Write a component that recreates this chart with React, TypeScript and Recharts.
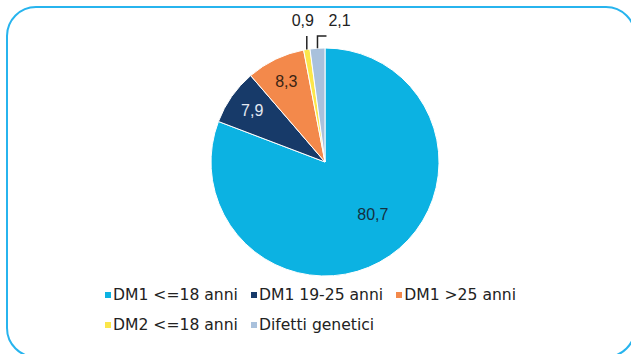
import { PieChart, Pie, Cell, Legend } from "recharts";

const CATEGORIES = ["DM1 <=18 anni", "DM1 19-25 anni", "DM1 >25 anni", "DM2 <=18 anni", "Difetti genetici"];
const VALUES = [80.7, 7.9, 8.3, 0.9, 2.1];

const COLORS = ["#0cb2e2", "#173a69", "#f3894b", "#fbe64a", "#a9c1dc"];
const LABEL_COLORS = ["#14313f", "#e4e9f2", "#3a2414", "#222", "#222"];

const data = CATEGORIES.map((name, i) => ({ name, value: VALUES[i] }));

const RAD = Math.PI / 180;
const fmt = (v: number) => v.toFixed(1).replace(".", ",");

function renderLabel(props: any) {
  const { cx, cy, midAngle, outerRadius, percent, value, index } = props;
  if (percent >= 0.03) {
    // big slice label sits a bit off its mid angle, like the original
    const ang = percent > 0.5 ? midAngle + 8 : midAngle;
    const r = outerRadius * (percent > 0.5 ? 0.62 : 0.78);
    return (
      <text
        x={cx + r * Math.cos(-ang * RAD)}
        y={cy + r * Math.sin(-ang * RAD)}
        fill={LABEL_COLORS[index]}
        textAnchor="middle"
        dominantBaseline="central"
        fontSize={16}
        fontFamily="Liberation Sans, Arial, sans-serif"
      >
        {fmt(value)}
      </text>
    );
  }
  // small slices: leader line straight up, text above
  const x0 = cx + outerRadius * Math.cos(-midAngle * RAD);
  const y0 = cy + outerRadius * Math.sin(-midAngle * RAD);
  const yTop = cy - outerRadius - 12;
  const right = index % 2 === 0;
  const path = right ? `M${x0},${y0}L${x0},${yTop}L${x0 + 9},${yTop}` : `M${x0},${y0}L${x0},${yTop}`;
  return (
    <g>
      <path d={path} stroke="#222" strokeWidth={1.5} fill="none" />
      <text
        x={right ? x0 + 11 : x0 - 4}
        y={yTop - 16}
        fill={LABEL_COLORS[index]}
        textAnchor={right ? "start" : "middle"}
        dominantBaseline="central"
        fontSize={16}
        fontFamily="Liberation Sans, Arial, sans-serif"
      >
        {fmt(value)}
      </text>
    </g>
  );
}

function LegendContent() {
  return (
    <div
      style={{
        display: "flex",
        flexWrap: "wrap",
        width: 440,
        rowGap: 11,
        fontFamily: "DejaVu Sans, Verdana, sans-serif",
        fontSize: 15.6,
        color: "#222",
      }}
    >
      {CATEGORIES.map((c, i) => (
        <div key={c} style={{ display: "flex", alignItems: "center", marginRight: 13, lineHeight: "19px" }}>
          <span style={{ width: 6, height: 6, background: COLORS[i], marginRight: 2, marginTop: -2 }} />
          <span>{c}</span>
        </div>
      ))}
    </div>
  );
}

export default function App() {
  return (
    <div style={{ position: "absolute", left: 0, top: 0, width: 631, height: 354, overflow: "hidden", background: "#fff" }}>
      <div
        style={{
          position: "absolute",
          left: 6,
          top: 6,
          width: 630,
          height: 352,
          boxSizing: "border-box",
          border: "2px solid #27b4ee",
          borderRadius: 30,
        }}
      />
      <PieChart width={631} height={354} style={{ position: "absolute", left: 0, top: 0 }}>
        <Pie
          data={data}
          dataKey="value"
          nameKey="name"
          cx={320}
          cy={157}
          outerRadius={114}
          startAngle={90}
          endAngle={-270}
          stroke="#fff"
          strokeWidth={1}
          label={renderLabel}
          labelLine={false}
          isAnimationActive={false}
        >
          {data.map((d, i) => (
            <Cell key={d.name} fill={COLORS[i]} />
          ))}
        </Pie>
        <Legend
          content={<LegendContent />}
          wrapperStyle={{ position: "absolute", left: 105, top: 286, width: 440 }}
        />
      </PieChart>
    </div>
  );
}
